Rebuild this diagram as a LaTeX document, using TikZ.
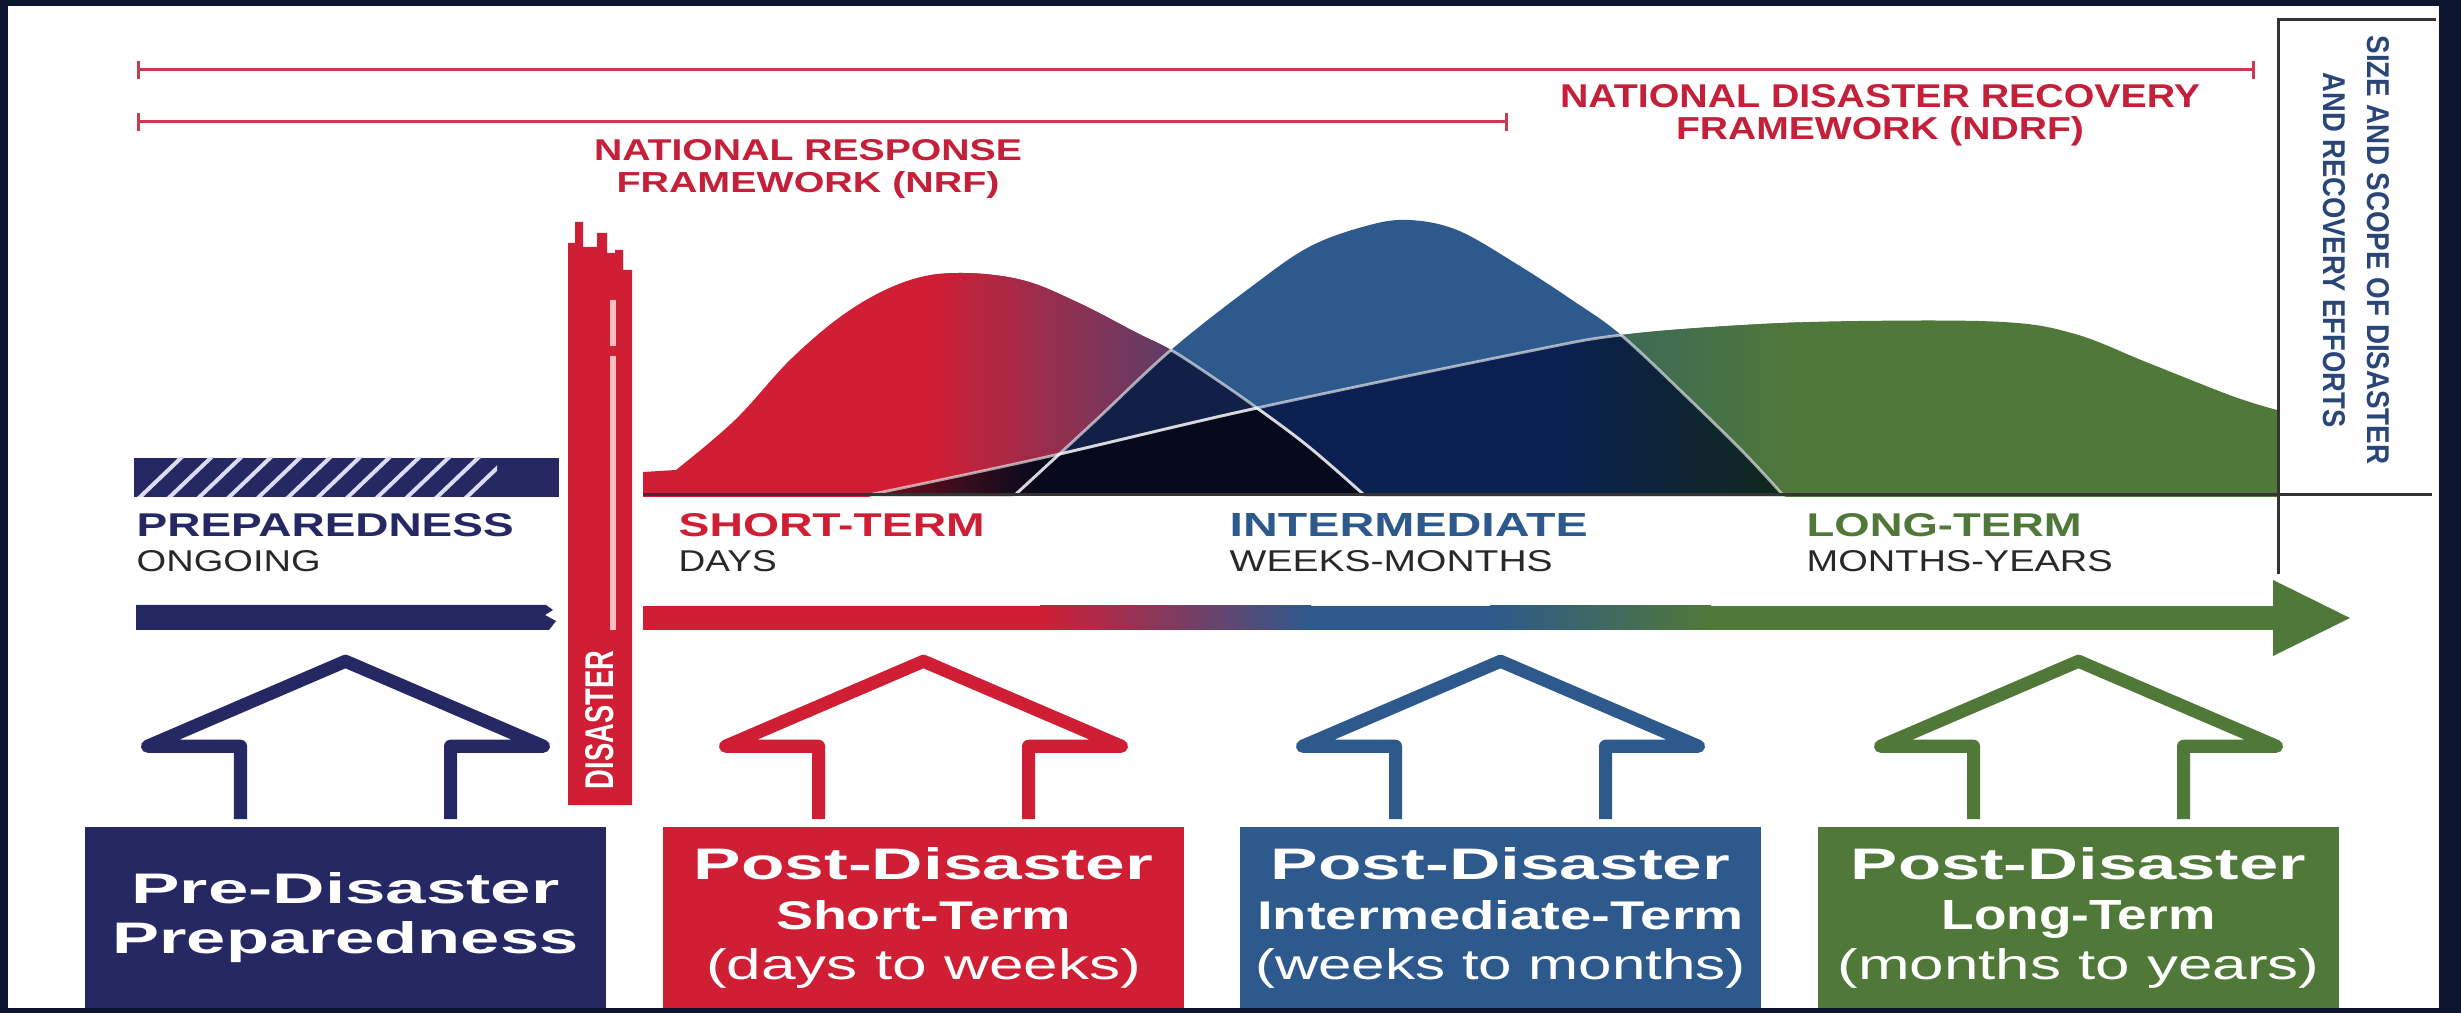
\documentclass[tikz,border=0pt]{standalone}
\usepackage{fontspec}
\setmainfont{Liberation Sans}
\usepackage{graphicx}
\usetikzlibrary{arrows.meta}

\definecolor{framec}{RGB}{12,22,48}
\definecolor{navyc}{RGB}{37,40,99}
\definecolor{redc}{RGB}{208,30,52}
\definecolor{bluec}{RGB}{45,89,140}
\definecolor{greenc}{RGB}{80,120,56}
\definecolor{nrfred}{RGB}{196,32,58}
\definecolor{spanred}{RGB}{200,60,80}
\definecolor{subgray}{RGB}{40,40,40}
\definecolor{purpc}{RGB}{92,62,104}
\definecolor{deepnavy}{RGB}{11,32,80}
\definecolor{duskc}{RGB}{18,32,72}
\definecolor{nightc}{RGB}{6,10,28}
\definecolor{tealc}{RGB}{62,106,88}
\definecolor{mossdark}{RGB}{16,40,26}
\definecolor{maroonc}{RGB}{110,14,30}
\definecolor{sizeblue}{RGB}{42,70,120}
\definecolor{hatchc}{RGB}{220,220,245}

\newlength{\pxu}
\setlength{\pxu}{0.01cm}
\newcommand{\fitline}[3]{\resizebox{#1\pxu}{#2\pxu}{#3}}

% the three effort curves (pixel units, y down)
\newcommand{\redhump}{(643,497) -- (643,472) -- plot[smooth,tension=.6] coordinates {(676,470) (735,420) (792,358) (850,310) (907,281) (959,273) (1022,280) (1079,303) (1137,333) (1171,350) (1214,378) (1257,408) (1309,447) (1363,494)} -- (1363,497) -- cycle}
\newcommand{\bluehump}{(1014,497) -- plot[smooth,tension=.6] coordinates {(1016,494) (1094,422) (1171,350) (1251,287) (1309,247) (1366,226) (1408,220) (1457,230) (1515,263) (1572,300) (1621,335) (1687,397) (1744,453) (1782,494)} -- (1784,497) -- cycle}
\newcommand{\greenhump}{(871,497) -- plot[smooth,tension=.6] coordinates {(873,494) (1042,458) (1257,408) (1520,353) (1621,335) (1744,325) (1859,321) (2003,322) (2075,334) (2146,362) (2232,396) (2277,410)} -- (2277,497) -- cycle}

\begin{document}
\begin{tikzpicture}[x=0.01cm,y=-0.01cm,
  phasebox/.style={minimum width=5.21cm,minimum height=1.81cm,inner sep=0pt,text=white,align=center,font=\bfseries\fontsize{10}{14.2}\selectfont},
  houseup/.style={line width=0.13cm,line join=round},
  phasetag/.style={inner sep=0pt,anchor=base west},
  framelabel/.style={inner sep=0pt,anchor=north,align=center,text=nrfred,font=\bfseries\fontsize{8}{9.1}\selectfont},
  spanline/.style={draw=spanred,line width=0.03cm,{Bar[width=0.18cm]}-{Bar[width=0.18cm]}},
  seam/.style={draw=white,draw opacity=.6,line width=0.028cm},
  axisline/.style={draw=black!80,line width=0.03cm},
]
\useasboundingbox (0,0) rectangle (2461,1013);
\fill[framec] (0,0) rectangle (2461,1013);
\fill[white] (8,6) rectangle (2439,1008);

% framework spans
\coordinate (ndrfL) at (137,70);
\coordinate (ndrfR) at (2255,70);
\coordinate (nrfL) at (137,122);
\coordinate (nrfR) at (1508,122);
\draw[spanline] (ndrfL) -- (ndrfR);
\draw[spanline] (nrfL) -- (nrfR);
\node[framelabel] (nrf) at (808,139) {\fitline{428}{21}{NATIONAL RESPONSE}\\\fitline{383}{21}{FRAMEWORK (NRF)}};
\node[framelabel] (ndrf) at (1880,84) {\fitline{640}{23}{NATIONAL DISASTER RECOVERY}\\\fitline{408}{23}{FRAMEWORK (NDRF)}};

% curves
\fill[redc] \redhump;
\begin{scope}
  \clip \redhump;
  \shade[left color=redc,right color=purpc] (930,250) rectangle (1175,500);
  \fill[purpc] (1174,250) rectangle (1370,500);
\end{scope}
\fill[bluec] \bluehump;
\fill[greenc] \greenhump;
\begin{scope}
  \clip \greenhump;
  \shade[left color=tealc,right color=greenc] (1620,300) rectangle (1800,500);
\end{scope}
\begin{scope}
  \clip \bluehump; \clip \greenhump;
  \fill[deepnavy] (1000,200) rectangle (1800,500);
  \shade[left color=deepnavy,right color=mossdark] (1560,300) rectangle (1790,500);
\end{scope}
\begin{scope}
  \clip \redhump; \clip \bluehump;
  \fill[duskc] (1000,200) rectangle (1400,500);
\end{scope}
\begin{scope}
  \clip \redhump; \clip \greenhump;
  \shade[left color=maroonc,right color=nightc] (880,400) rectangle (1040,500);
  \fill[nightc] (1039,300) rectangle (1400,500);
\end{scope}
\begin{scope}\clip \bluehump; \draw[seam] \redhump; \draw[seam] \greenhump; \end{scope}
\begin{scope}\clip \redhump; \draw[seam] \bluehump; \draw[seam] \greenhump; \end{scope}
\begin{scope}\clip \greenhump; \draw[seam] \redhump; \draw[seam] \bluehump; \end{scope}

% axes
\coordinate (axisL) at (643,495);
\coordinate (axisR) at (2432,495);
\coordinate (sizeTop) at (2278,20);
\coordinate (sizeBot) at (2278,574);
\coordinate (sizeEnd) at (2436,20);
\draw[axisline] (axisL) -- (axisR);
\draw[axisline] (sizeEnd) -- (sizeTop) -- (sizeBot);
\node[rotate=-90,align=center,inner sep=0pt,text=sizeblue,font=\bfseries\fontsize{7.5}{12.5}\selectfont] (sizenote) at (2356,250) {\fitline{429}{22}{SIZE AND SCOPE OF DISASTER}\\\fitline{355}{22}{AND RECOVERY EFFORTS}};

% preparedness bar
\fill[navyc] (134,458) rectangle (559,497);
\begin{scope}
  \clip (134,458) rectangle (497,497);
  \foreach \i in {0,...,11}
    \draw[hatchc,line width=0.04cm] (138+29.7*\i,499) -- (183+29.7*\i,456);
\end{scope}

% phase labels
\node[phasetag,text=navyc,font=\bfseries] (prep) at (136,537) {\fitline{377}{23}{PREPAREDNESS}};
\node[phasetag,text=subgray] (prepwhen) at (136,571) {\fitline{184}{21}{ONGOING}};
\node[phasetag,text=redc,font=\bfseries] (short) at (678,537) {\fitline{306}{23}{SHORT-TERM}};
\node[phasetag,text=subgray] (shortwhen) at (678,571) {\fitline{98}{21}{DAYS}};
\node[phasetag,text=bluec,font=\bfseries] (inter) at (1229,537) {\fitline{358}{23}{INTERMEDIATE}};
\node[phasetag,text=subgray] (interwhen) at (1229,571) {\fitline{323}{21}{WEEKS-MONTHS}};
\node[phasetag,text=greenc,font=\bfseries] (long) at (1806,537) {\fitline{275}{23}{LONG-TERM}};
\node[phasetag,text=subgray] (longwhen) at (1806,571) {\fitline{306}{21}{MONTHS-YEARS}};

% time line
\fill[navyc] (136,605) -- (546,605) -- (553,610) -- (545,615) -- (556,621) -- (549,630) -- (136,630) -- cycle;
\fill[redc] (643,606) rectangle (1041,630);
\shade[left color=redc,right color=bluec] (1040,606) rectangle (1311,630);
\fill[bluec] (1310,606) rectangle (1491,630);
\shade[left color=bluec,right color=greenc] (1490,606) rectangle (1711,630);
\fill[greenc] (1710,606) rectangle (2275,630);
\fill[greenc] (2273,580) -- (2350,618) -- (2273,656) -- cycle;

% disaster
\fill[redc] (568,805) -- (568,243) -- (575,243) -- (575,222) -- (583,222) -- (583,247) -- (597,247) -- (597,233) -- (607,233) -- (607,253) -- (615,253) -- (615,250) -- (623,250) -- (623,270) -- (632,270) -- (632,805) -- cycle;
\fill[red!25!white] (610,300) rectangle (616,346);
\fill[red!25!white] (610,356) rectangle (616,630);
\node[rotate=90,inner sep=0pt,text=white,font=\bfseries] (disaster) at (600,720) {\fitline{138}{28}{DISASTER}};

% phase boxes
\node[phasebox,fill=navyc] (prebox) at (345.5,917.5) {\fitline{428}{31}{Pre-Disaster}\\\fitline{466}{32}{Preparedness}};
\node[phasebox,fill=redc] (shortbox) at (923.5,917.5) {\fitline{459}{32}{Post-Disaster}\\\fitline{295}{29}{Short-Term}\\\fitline{435}{31}{\mdseries(days to weeks)}};
\node[phasebox,fill=bluec] (midbox) at (1500.5,917.5) {\fitline{459}{32}{Post-Disaster}\\\fitline{487}{29}{Intermediate-Term}\\\fitline{491}{31}{\mdseries(weeks to months)}};
\node[phasebox,fill=greenc] (longbox) at (2078.5,917.5) {\fitline{455}{32}{Post-Disaster}\\\fitline{274}{29}{Long-Term}\\\fitline{482}{31}{\mdseries(months to years)}};

\foreach \b/\c in {prebox/navyc,shortbox/redc,midbox/bluec,longbox/greenc}
  \draw[houseup,draw=\c] ([shift={(-105,-7)}]\b.north) -- ++(0,-73) -- ++(-93,0) -- ++(198,-85) -- ++(198,85) -- ++(-93,0) -- ++(0,73);
\end{tikzpicture}
\end{document}
